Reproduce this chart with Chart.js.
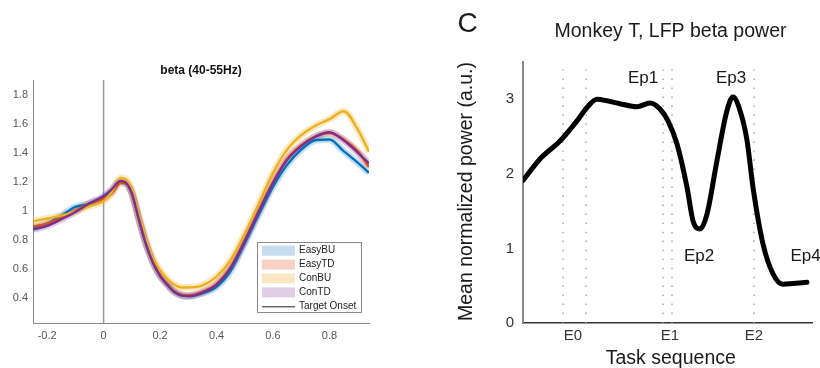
<!DOCTYPE html>
<html>
<head>
<meta charset="utf-8">
<script src="https://cdn.jsdelivr.net/npm/chart.js@4.4.1/dist/chart.umd.min.js"></script>
<style>
  html, body { margin: 0; padding: 0; background: #fff; }
  #wrap { position: relative; width: 820px; height: 368px; overflow: hidden; }
  #left { position: absolute; left: 0; top: 0; }
  #right { position: absolute; left: 420px; top: 0; }
</style>
</head>
<body>
<div id="wrap">
  <canvas id="left" width="420" height="368"></canvas>
  <canvas id="right" width="400" height="368"></canvas>
</div>
<script>
// ---- left panel: beta (40-55Hz) ----
const timeLeft = [-0.25, -0.2, -0.15, -0.1, -0.05, 0, 0.03, 0.06, 0.08, 0.1, 0.125, 0.15, 0.175, 0.2, 0.225, 0.25, 0.275, 0.3, 0.35, 0.4, 0.45, 0.5, 0.55, 0.6, 0.65, 0.7, 0.75, 0.8, 0.85, 0.9, 0.94];
const easyBU = [0.875, 0.91, 0.965, 1.025, 1.045, 1.09, 1.14, 1.2, 1.19, 1.12, 0.94, 0.77, 0.645, 0.55, 0.49, 0.44, 0.415, 0.41, 0.43, 0.475, 0.585, 0.775, 0.975, 1.165, 1.315, 1.42, 1.485, 1.49, 1.41, 1.33, 1.26];
const easyTD = [0.89, 0.91, 0.95, 1.0, 1.05, 1.08, 1.12, 1.19, 1.185, 1.12, 0.945, 0.775, 0.645, 0.555, 0.495, 0.445, 0.42, 0.415, 0.44, 0.495, 0.61, 0.795, 1.0, 1.195, 1.355, 1.45, 1.51, 1.535, 1.49, 1.41, 1.3];
const conBU = [0.925, 0.945, 0.965, 0.995, 1.03, 1.065, 1.13, 1.225, 1.215, 1.145, 0.965, 0.8, 0.67, 0.59, 0.53, 0.49, 0.47, 0.47, 0.485, 0.545, 0.66, 0.84, 1.05, 1.26, 1.42, 1.52, 1.585, 1.63, 1.685, 1.56, 1.405];
const conTD = [0.87, 0.895, 0.94, 0.99, 1.05, 1.1, 1.15, 1.205, 1.19, 1.12, 0.94, 0.77, 0.64, 0.55, 0.49, 0.44, 0.415, 0.41, 0.435, 0.49, 0.605, 0.79, 0.995, 1.19, 1.35, 1.445, 1.51, 1.54, 1.485, 1.4, 1.325];
const leftNames = ["EasyBU", "EasyTD", "ConBU", "ConTD"];
const leftXTicks = [-0.2, 0, 0.2, 0.4, 0.6, 0.8];
const leftYTicks = [0.4, 0.6, 0.8, 1, 1.2, 1.4, 1.6, 1.8];
const onsetX = 0;

// ---- right panel: Monkey T ----
const taskX = [0, 17, 37, 54, 64, 74, 84, 97, 114, 127, 137, 145, 154, 164, 170, 177, 184, 194, 204, 210, 217, 224, 230, 240, 250, 260, 270, 284];
const betaPower = [1.91, 2.2, 2.44, 2.71, 2.89, 3.0, 2.98, 2.94, 2.9, 2.95, 2.87, 2.71, 2.4, 1.82, 1.37, 1.26, 1.46, 2.18, 2.85, 3.03, 2.85, 2.45, 1.82, 1.06, 0.66, 0.52, 0.53, 0.545];
const eventLines = [40, 63, 140, 149, 231];
const eventTicks = [50, 147, 231];
const eventTickLabels = ["E0", "E1", "E2"];
const rightYTicks = [0, 1, 2, 3];
const epochNames = ["Ep1", "Ep2", "Ep3", "Ep4"];
const epochX = [120, 176, 208, 282.5];
const epochY = [3.285, 0.9, 3.285, 0.9];

const FONT = "'Liberation Sans', Arial, Helvetica, sans-serif";
const lineColors = ["#0072BD", "#D95319", "#EDB120", "#7E2F8E"];
const bandColors = ["rgba(0,114,189,0.22)", "rgba(217,83,25,0.2)", "rgba(237,177,32,0.28)", "rgba(126,47,142,0.2)"];
const patchColors = ["#c6ddef", "#f6d2c7", "#f9e7c3", "#e0cee5"];

const toPts = (xs, ys) => xs.map((x, i) => ({ x: x, y: ys[i] }));
const leftSeries = [easyBU, easyTD, conBU, conTD];
const drawOrder = [4, 3, 2, 1]; // purple on top

const leftSets = [];
leftSeries.forEach((s, i) => {
  leftSets.push({ data: toPts(timeLeft, s), borderColor: bandColors[i], borderWidth: 7, order: 10 + drawOrder[i] });
  leftSets.push({ data: toPts(timeLeft, s), borderColor: lineColors[i], borderWidth: 2.4, order: drawOrder[i] });
});
leftSets.push({ data: [{ x: onsetX, y: 0.225 }, { x: onsetX, y: 1.9 }], borderColor: "#9b9b9b", borderWidth: 1.5, order: 20 });

// title + legend box for the left panel
const leftDecor = {
  id: "leftDecor",
  afterDraw(chart) {
    const ctx = chart.ctx, a = chart.chartArea;
    ctx.save();
    ctx.fillStyle = "#111";
    ctx.font = "bold 12px " + FONT;
    ctx.textAlign = "center";
    ctx.textBaseline = "middle";
    ctx.fillText("beta (40-55Hz)", (a.left + a.right) / 2, 71);

    // legend
    const bx = 257, by = 242, bw = 104, bh = 70;
    ctx.fillStyle = "#fff";
    ctx.fillRect(bx, by, bw, bh);
    ctx.strokeStyle = "#8a8a8a";
    ctx.lineWidth = 1;
    ctx.strokeRect(bx + 0.5, by + 0.5, bw, bh);
    ctx.font = "10px " + FONT;
    ctx.textAlign = "left";
    leftNames.forEach((n, i) => {
      const y = by + 8.7 + i * 13.9;
      ctx.fillStyle = patchColors[i];
      ctx.fillRect(bx + 5, y - 5, 33, 10);
      ctx.fillStyle = "#222";
      ctx.fillText(n, bx + 42, y);
    });
    const yl = by + 8.7 + 4 * 13.9;
    ctx.strokeStyle = "#222";
    ctx.beginPath();
    ctx.moveTo(bx + 5, yl + 0.5);
    ctx.lineTo(bx + 38, yl + 0.5);
    ctx.stroke();
    ctx.fillText("Target Onset", bx + 42, yl);
    ctx.restore();
  }
};

new Chart(document.getElementById("left"), {
  type: "line",
  data: { datasets: leftSets },
  options: {
    responsive: false,
    animation: false,
    layout: { padding: { top: 80, right: 51, left: 0, bottom: 0 } },
    elements: { point: { radius: 0 }, line: { cubicInterpolationMode: "monotone" } },
    plugins: { legend: { display: false }, tooltip: { enabled: false } },
    scales: {
      x: {
        type: "linear", min: -0.25, max: 0.94,
        afterFit: s => { s.height = 45; },
        afterBuildTicks: s => { s.ticks = leftXTicks.map(v => ({ value: v })); },
        ticks: { font: { family: FONT, size: 11 }, color: "#555", padding: 6, maxRotation: 0, callback: v => String(v) },
        grid: { drawOnChartArea: false, drawTicks: false },
        border: { color: "#8c8c8c", width: 1 }
      },
      y: {
        min: 0.225, max: 1.9,
        afterFit: s => { s.width = 33; },
        afterBuildTicks: s => { s.ticks = leftYTicks.map(v => ({ value: v })); },
        ticks: { font: { family: FONT, size: 11 }, color: "#555", padding: 5, callback: v => String(v) },
        grid: { drawOnChartArea: false, drawTicks: false },
        border: { color: "#8c8c8c", width: 1 }
      }
    }
  },
  plugins: [leftDecor]
});

// ---- right panel ----
const rightSets = eventLines.map(x => ({
  data: [{ x: x, y: 0 }, { x: x, y: 3.5 }],
  borderColor: "#9a9a9a", borderWidth: 1.3, borderDash: [1.5, 7.5], order: 5
}));
rightSets.push({ data: toPts(taskX, betaPower), borderColor: "#000", borderWidth: 5, order: 1, borderCapStyle: "round" });

const rightDecor = {
  id: "rightDecor",
  afterDraw(chart) {
    const ctx = chart.ctx;
    const xs = chart.scales.x, ys = chart.scales.y;
    ctx.save();
    ctx.fillStyle = "#1a1a1a";
    ctx.textAlign = "center";
    ctx.textBaseline = "middle";
    ctx.font = "28px " + FONT;
    ctx.fillText("C", 47.5, 24);
    ctx.font = "19.5px " + FONT;
    ctx.fillText("Monkey T, LFP beta power", 250.5, 32);
    ctx.font = "19.5px " + FONT;
    ctx.fillText("Task sequence", 250.8, 359);
    ctx.save();
    ctx.translate(46.7, 191.5);
    ctx.rotate(-Math.PI / 2);
    ctx.fillText("Mean normalized power (a.u.)", 0, 0);
    ctx.restore();
    ctx.font = "17px " + FONT;
    epochNames.forEach((n, i) => {
      ctx.fillText(n, xs.getPixelForValue(epochX[i]), ys.getPixelForValue(epochY[i]));
    });
    ctx.restore();
  }
};

new Chart(document.getElementById("right"), {
  type: "line",
  data: { datasets: rightSets },
  options: {
    responsive: false,
    animation: false,
    layout: { padding: { top: 62, right: 8, left: 0, bottom: 0 } },
    elements: { point: { radius: 0 }, line: { cubicInterpolationMode: "monotone" } },
    plugins: { legend: { display: false }, tooltip: { enabled: false } },
    scales: {
      x: {
        type: "linear", min: 0, max: 289,
        afterFit: s => { s.height = 45; },
        afterBuildTicks: s => { s.ticks = eventTicks.map(v => ({ value: v })); },
        ticks: {
          font: { family: FONT, size: 15 }, color: "#333", padding: 4, maxRotation: 0,
          callback: v => eventTickLabels[eventTicks.indexOf(v)]
        },
        grid: { drawOnChartArea: false, drawTicks: false },
        border: { color: "#333", width: 1.5 }
      },
      y: {
        min: 0, max: 3.5,
        afterFit: s => { s.width = 103; },
        afterBuildTicks: s => { s.ticks = rightYTicks.map(v => ({ value: v })); },
        ticks: { font: { family: FONT, size: 15 }, color: "#333", padding: 9, callback: v => String(v) },
        grid: { drawOnChartArea: false, drawTicks: false },
        border: { color: "#8a8a8a", width: 2 }
      }
    }
  },
  plugins: [rightDecor]
});
</script>
</body>
</html>
